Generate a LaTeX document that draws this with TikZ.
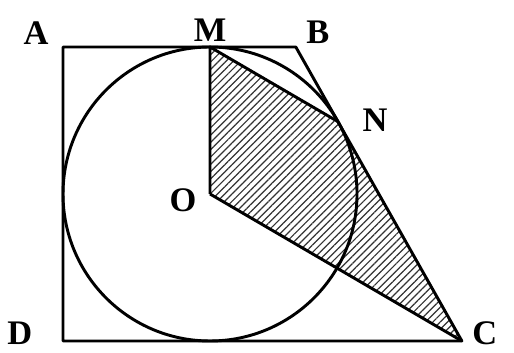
\documentclass[tikz,border=0pt]{standalone}
\usepackage{fontspec}
\setmainfont{Liberation Serif}
\usetikzlibrary{patterns.meta}

\begin{document}
\begin{tikzpicture}[
    edge/.style={line width=1.7pt, line join=round},
    hatch/.style={
      pattern={Lines[angle=45, distance=3pt, line width=0.7pt]},
      pattern color=black!80,
    },
    lbl/.style={font=\fontsize{20}{20}\selectfont\bfseries, inner sep=0pt},
  ]
  \useasboundingbox (-4.286,-3.245) rectangle (6.204,3.959);

  % Points of the trapezoid and tangency points
  \coordinate (O) at (0,0);
  \coordinate (A) at (-3,3);
  \coordinate (M) at (0,3);
  \coordinate (B) at (1.751,3);
  \coordinate (N) at (29.5:3);
  \coordinate (C) at (5.14,-3);
  \coordinate (D) at (-3,-3);

  % Shaded quadrilateral
  \fill[hatch] (O) -- (M) -- (N) -- (C) -- cycle;

  % Circle and trapezoid
  \draw[edge] (O) circle (3);
  \draw[edge] (A) -- (B) -- (C) -- (D) -- cycle;

  % Quadrilateral sides
  \draw[edge] (O) -- (M) -- (N);
  \draw[edge] (O) -- (C);

  % Labels
  \node[lbl] (lA) at (-3.55,3.29) {A};
  \node[lbl] (lM) at (0,3.35) {M};
  \node[lbl] (lB) at (2.20,3.31) {B};
  \node[lbl] (lN) at (3.37,1.51) {N};
  \node[lbl] (lO) at (-0.55,-0.12) {O};
  \node[lbl] (lD) at (-3.88,-2.84) {D};
  \node[lbl] (lC) at (5.61,-2.84) {C};

\end{tikzpicture}
\end{document}
